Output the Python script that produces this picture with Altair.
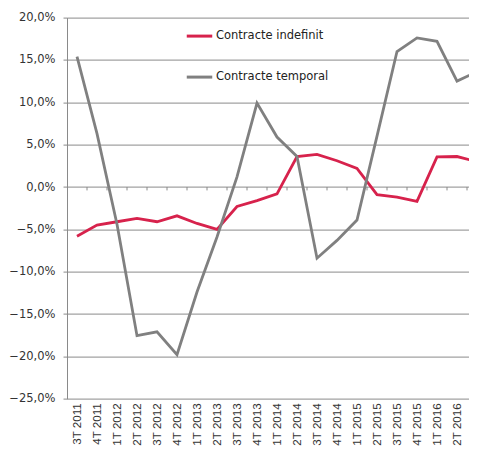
import altair as alt
import pandas as pd

quarters = ["3T 2011", "4T 2011", "1T 2012", "2T 2012", "3T 2012", "4T 2012",
            "1T 2013", "2T 2013", "3T 2013", "4T 2013", "1T 2014", "2T 2014",
            "3T 2014", "4T 2014", "1T 2015", "2T 2015", "3T 2015", "4T 2015",
            "1T 2016", "2T 2016", "3T 2016"]
indefinit = [-5.8, -4.5, -4.1, -3.7, -4.1, -3.4, -4.3, -5.0, -2.3, -1.6, -0.8,
             3.6, 3.85, 3.1, 2.2, -0.9, -1.2, -1.7, 3.55, 3.6, 3.0]
temporal = [15.4, 6.3, -4.4, -17.55, -17.1, -19.8, -12.4, -5.9, 1.2, 9.9, 5.9,
            3.6, -8.4, -6.3, -3.9, 6.0, 16.0, 17.6, 17.2, 12.5, 13.6]
series_names = ["Contracte indefinit", "Contracte temporal"]
series_colors = ["#D7224C", "#808080"]
y_ticks = [20, 15, 10, 5, 0, -5, -10, -15, -20, -25]

rows = []
for i, q in enumerate(quarters):
    rows.append({"quarter": q, "serie": series_names[0], "value": indefinit[i]})
    rows.append({"quarter": q, "serie": series_names[1], "value": temporal[i]})
df = pd.DataFrame(rows)

bounds = pd.DataFrame({"quarter": quarters[:-1], "y0": 0.0, "y1": -0.4})

xscale = alt.Scale(type="point", domain=quarters, padding=0.25, align=1)
yscale = alt.Scale(domain=[-25, 20], nice=False, zero=False)

lines = alt.Chart(df).mark_line(strokeWidth=2.8).encode(
    x=alt.X("quarter:N", scale=xscale, sort=quarters, title=None,
            axis=alt.Axis(grid=False, domain=False, ticks=False, labelAngle=-90,
                          labelPadding=4, labelFont="Liberation Sans", labelFontSize=11.6,
                          labelColor="#333333", labelOverlap=False, labelFlush=False,
                          labelBound=False)),
    y=alt.Y("value:Q", scale=yscale, title=None,
            axis=alt.Axis(values=y_ticks,
                          labelExpr="replace(format(datum.value, '.1f'), '.', ',') + '%'",
                          grid=True, gridColor="#8a8a8a", gridWidth=1,
                          domain=True, domainColor="#8a8a8a", ticks=True, tickColor="#8a8a8a",
                          tickSize=4, labelPadding=8, labelFont="DejaVu Sans",
                          labelFontSize=11.5, labelColor="#333333")),
    color=alt.Color("serie:N", scale=alt.Scale(domain=series_names, range=series_colors),
                    legend=alt.Legend(title=None, orient="none", legendX=118, legendY=4,
                                      symbolType="stroke", symbolSize=650, symbolStrokeWidth=3,
                                      labelFont="DejaVu Sans", labelFontSize=11.5,
                                      labelColor="#222222", labelOffset=2, rowPadding=20,
                                      padding=0)),
)

ticks0 = alt.Chart(bounds).mark_rule(color="#8a8a8a", strokeWidth=1, xOffset=10).encode(
    x=alt.X("quarter:N", scale=xscale, sort=quarters),
    y=alt.Y("y0:Q", scale=yscale),
    y2="y1:Q",
)

chart = alt.layer(ticks0, lines).properties(
    width=410, height=381.2,
    padding={"left": 59, "top": 9.6, "right": -8, "bottom": 47.2},
    autosize="none",
).configure_view(stroke=None)

chart.save("out.html", embed_options={"renderer": "svg", "actions": False})
